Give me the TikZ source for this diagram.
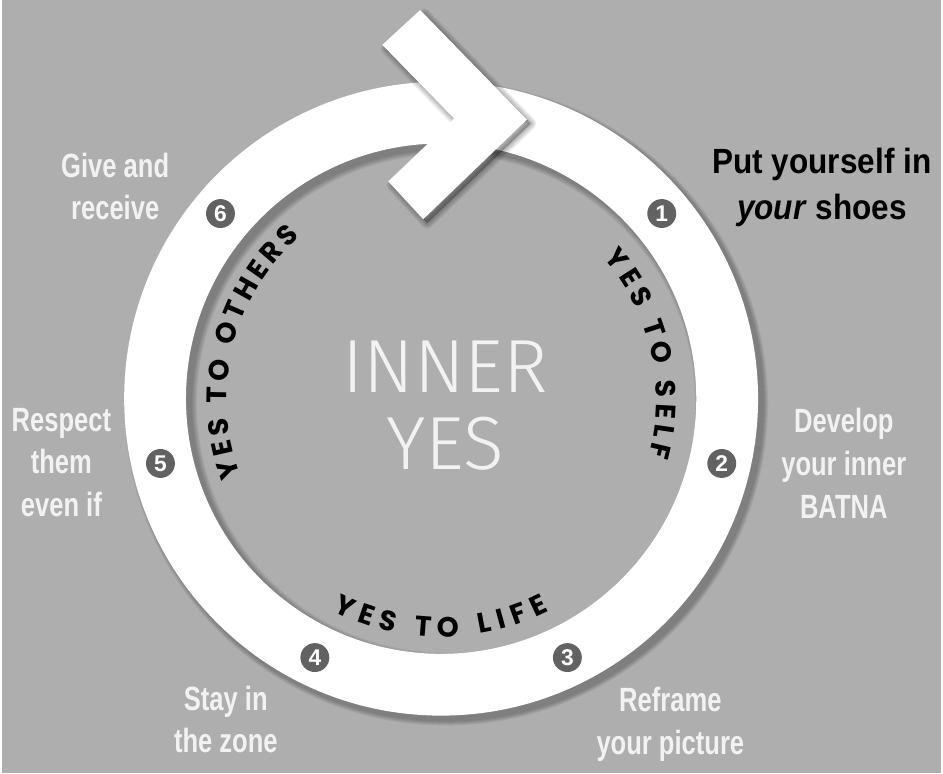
\documentclass[tikz,border=0pt]{standalone}
\usepackage{fontspec}
\setmainfont{Liberation Sans}
\newfontfamily\stepfont[FakeStretch=0.76]{Liberation Sans}
\newfontfamily\shoefont[FakeStretch=0.9]{Liberation Sans}
\newfontfamily\yesfont{Fira Sans}[UprightFont=* Light]
\newfontfamily\ringfont{Poppins}[UprightFont=* Bold]
\usetikzlibrary{decorations.text}
\definecolor{paper}{RGB}{174,174,174}
\definecolor{badgegray}{RGB}{98,98,98}
\definecolor{chalk}{RGB}{242,242,242}

\begin{document}
\begin{tikzpicture}[
  steplabel/.style={align=center,text=chalk,font=\stepfont\bfseries\fontsize{9.6}{12.2}\selectfont},
  badge/.style={circle,fill=badgegray,text=white,inner sep=0pt,minimum size=0.29cm,font=\bfseries\fontsize{6.5}{6.5}\selectfont},
  ringtext/.style={decorate,decoration={text along path,text align={fit to path},text={|\ringfont\fontsize{8}{8}\selectfont|#1}}}
]
  \fill[paper] (-4.41,-3.76) rectangle (5.02,4.00);
  % ring with its shadow
  \foreach \i in {1,...,5}
    \fill[black,opacity=0.06,even odd rule,shift={(0.05,-0.05)}] (0,0) circle ({3.18+0.01*\i}) (0,0) circle ({2.56-0.012*\i});
  \fill[white,even odd rule] (0,0) circle (3.18) (0,0) circle (2.56);
  % arrow head
  \foreach \i in {1,...,4}
    \filldraw[black,opacity=0.07,line width={\i*0.8pt},line join=round,shift={(0.04,-0.04)}]
      (-0.21,3.90) -- (0.86,2.80) -- (-0.18,1.80) -- (-0.53,2.18) -- (0.13,2.81) -- (-0.59,3.55) -- cycle;
  \fill[white] (-0.21,3.90) -- (0.86,2.80) -- (-0.18,1.80) -- (-0.53,2.18) -- (0.13,2.81) -- (-0.59,3.55) -- cycle;
  % step numbers
  \foreach \a/\n in {40/1,-13/2,-64/3,-116/4,193/5,140/6}
    \node[badge] (b\n) at (\a:2.89) {\n};
  % texts round the inside of the ring
  \path[ringtext=YES TO SELF] (41:2.16) arc[start angle=41,end angle=-15.5,radius=2.16];
  \path[ringtext=YES TO OTHERS] (201:2.15) arc[start angle=201,end angle=131,radius=2.15];
  \path[ringtext=YES TO LIFE] (-117:2.39) arc[start angle=-117,end angle=-63,radius=2.39];
  \node[text=chalk,align=center,font=\yesfont\fontsize{21.5}{22}\selectfont] (inner) at (0.04,-0.07) {INNER\\YES};
  % step labels
  \node[align=center,font=\shoefont\bfseries\fontsize{10}{13}\selectfont] (shoes) at (3.82,2.12) {Put yourself in\\\textit{your} shoes};
  \node[steplabel] (develop) at (4.04,-0.65) {Develop\\your inner\\BATNA};
  \node[steplabel] (reframe) at (2.30,-3.27) {Reframe\\your picture};
  \node[steplabel] (stay) at (-2.16,-3.22) {Stay in\\the zone};
  \node[steplabel] (respect) at (-3.81,-0.64) {Respect\\them\\even if};
  \node[steplabel] (give) at (-3.27,2.13) {Give and\\receive};
\end{tikzpicture}
\end{document}
